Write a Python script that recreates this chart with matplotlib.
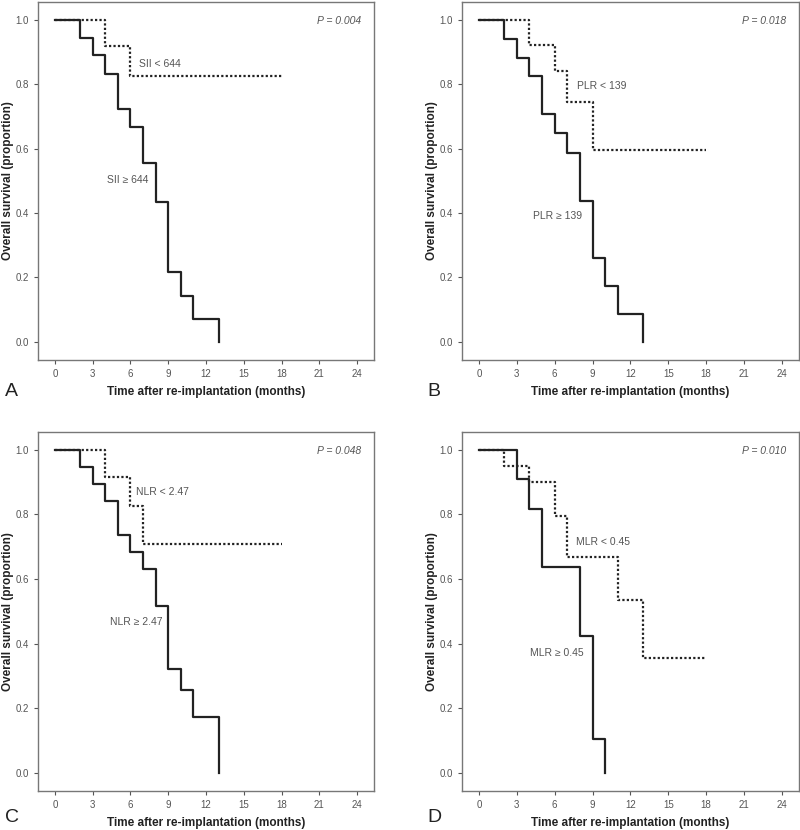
import matplotlib
matplotlib.use("Agg")
import matplotlib.pyplot as plt

plt.rcParams['font.family'] = ['Liberation Sans', 'DejaVu Sans']

# step times (months) and survival proportions
sii_low_t = [0, 4, 6, 18]
sii_low_s = [1.0, 0.917, 0.825, 0.825]
sii_high_t = [0, 2, 3, 4, 5, 6, 7, 8, 9, 10, 11, 13]
sii_high_s = [1.0, 0.944, 0.889, 0.833, 0.722, 0.667, 0.556, 0.433, 0.217, 0.144, 0.072, 0.0]

plr_low_t = [0, 4, 6, 7, 9, 18]
plr_low_s = [1.0, 0.923, 0.841, 0.746, 0.597, 0.597]
plr_high_t = [0, 2, 3, 4, 5, 6, 7, 8, 9, 10, 11, 13]
plr_high_s = [1.0, 0.941, 0.882, 0.824, 0.706, 0.647, 0.585, 0.437, 0.262, 0.175, 0.087, 0.0]

nlr_low_t = [0, 4, 6, 7, 18]
nlr_low_s = [1.0, 0.917, 0.825, 0.707, 0.707]
nlr_high_t = [0, 2, 3, 4, 5, 6, 7, 8, 9, 10, 11, 13]
nlr_high_s = [1.0, 0.947, 0.895, 0.842, 0.737, 0.684, 0.632, 0.516, 0.323, 0.258, 0.172, 0.0]

mlr_low_t = [0, 2, 4, 6, 7, 11, 13, 18]
mlr_low_s = [1.0, 0.95, 0.9, 0.795, 0.667, 0.536, 0.357, 0.357]
mlr_high_t = [0, 3, 4, 5, 8, 9, 10]
mlr_high_s = [1.0, 0.909, 0.818, 0.636, 0.424, 0.106, 0.0]

letters = ['A', 'B', 'C', 'D']
p_values = ['0.004', '0.018', '0.048', '0.010']
low_labels = ['SII < 644', 'PLR < 139', 'NLR < 2.47', 'MLR < 0.45']
high_labels = ['SII \u2265 644', 'PLR \u2265 139', 'NLR \u2265 2.47', 'MLR \u2265 0.45']
low_pos = [(6.7, 0.864), (7.8, 0.794), (6.4, 0.869), (7.65, 0.716)]
high_pos = [(4.1, 0.503), (4.3, 0.391), (4.4, 0.468), (4.05, 0.37)]

panels = [
    (sii_low_t, sii_low_s, sii_high_t, sii_high_s),
    (plr_low_t, plr_low_s, plr_high_t, plr_high_s),
    (nlr_low_t, nlr_low_s, nlr_high_t, nlr_high_s),
    (mlr_low_t, mlr_low_s, mlr_high_t, mlr_high_s),
]

boxes = [
    [0.0475, 0.5663, 0.42, 0.4313],
    [0.5775, 0.5663, 0.421, 0.4313],
    [0.0475, 0.047, 0.42, 0.4325],
    [0.5775, 0.047, 0.421, 0.4325],
]
letter_x = [0.006, 0.534, 0.006, 0.534]
letter_y = [1 - 391 / 830, 1 - 391 / 830, 1 - 817 / 830, 1 - 817 / 830]

fig = plt.figure(figsize=(8, 8.3), dpi=100)
grey = '#555555'

for i in range(4):
    ax = fig.add_axes(boxes[i])
    lt, ls, ht, hs = panels[i]
    ax.step(lt, ls, where='post', color='#222222', lw=1.6, linestyle=(0, (1, 1)))
    ax.step(ht, hs, where='post', color='#222222', lw=1.6)
    ax.set_xlim(-1.35, 25.35)
    ax.set_ylim(-0.056, 1.055)
    ax.set_xticks(range(0, 25, 3))
    ax.set_yticks([0, 0.2, 0.4, 0.6, 0.8, 1.0])
    ax.set_yticklabels(['0.0', '0.2', '0.4', '0.6', '0.8', '1.0'])
    ax.tick_params(labelsize=7, colors=grey, length=3, width=0.8, direction='out')
    for s in ax.spines.values():
        s.set_color('#777777')
        s.set_linewidth(1.0)
    ax.set_xlabel('Time after re-implantation (months)', fontsize=8.5,
                  fontweight='bold', color='#222222', labelpad=5)
    ax.set_ylabel('Overall survival (proportion)', fontsize=8.5,
                  fontweight='bold', color='#222222')
    ax.yaxis.set_label_coords(-0.07, 0.5)
    ax.text(24.35, 0.995, 'P = ' + p_values[i], ha='right', va='center',
            fontsize=7.5, style='italic', color=grey)
    ax.text(low_pos[i][0], low_pos[i][1], low_labels[i], ha='left', va='center',
            fontsize=7.5, color=grey)
    ax.text(high_pos[i][0], high_pos[i][1], high_labels[i], ha='left', va='center',
            fontsize=7.5, color=grey)
    fig.text(letter_x[i], letter_y[i], letters[i],
             fontsize=14, color='#222222', va='center')

fig.savefig('out.png', dpi=100)
